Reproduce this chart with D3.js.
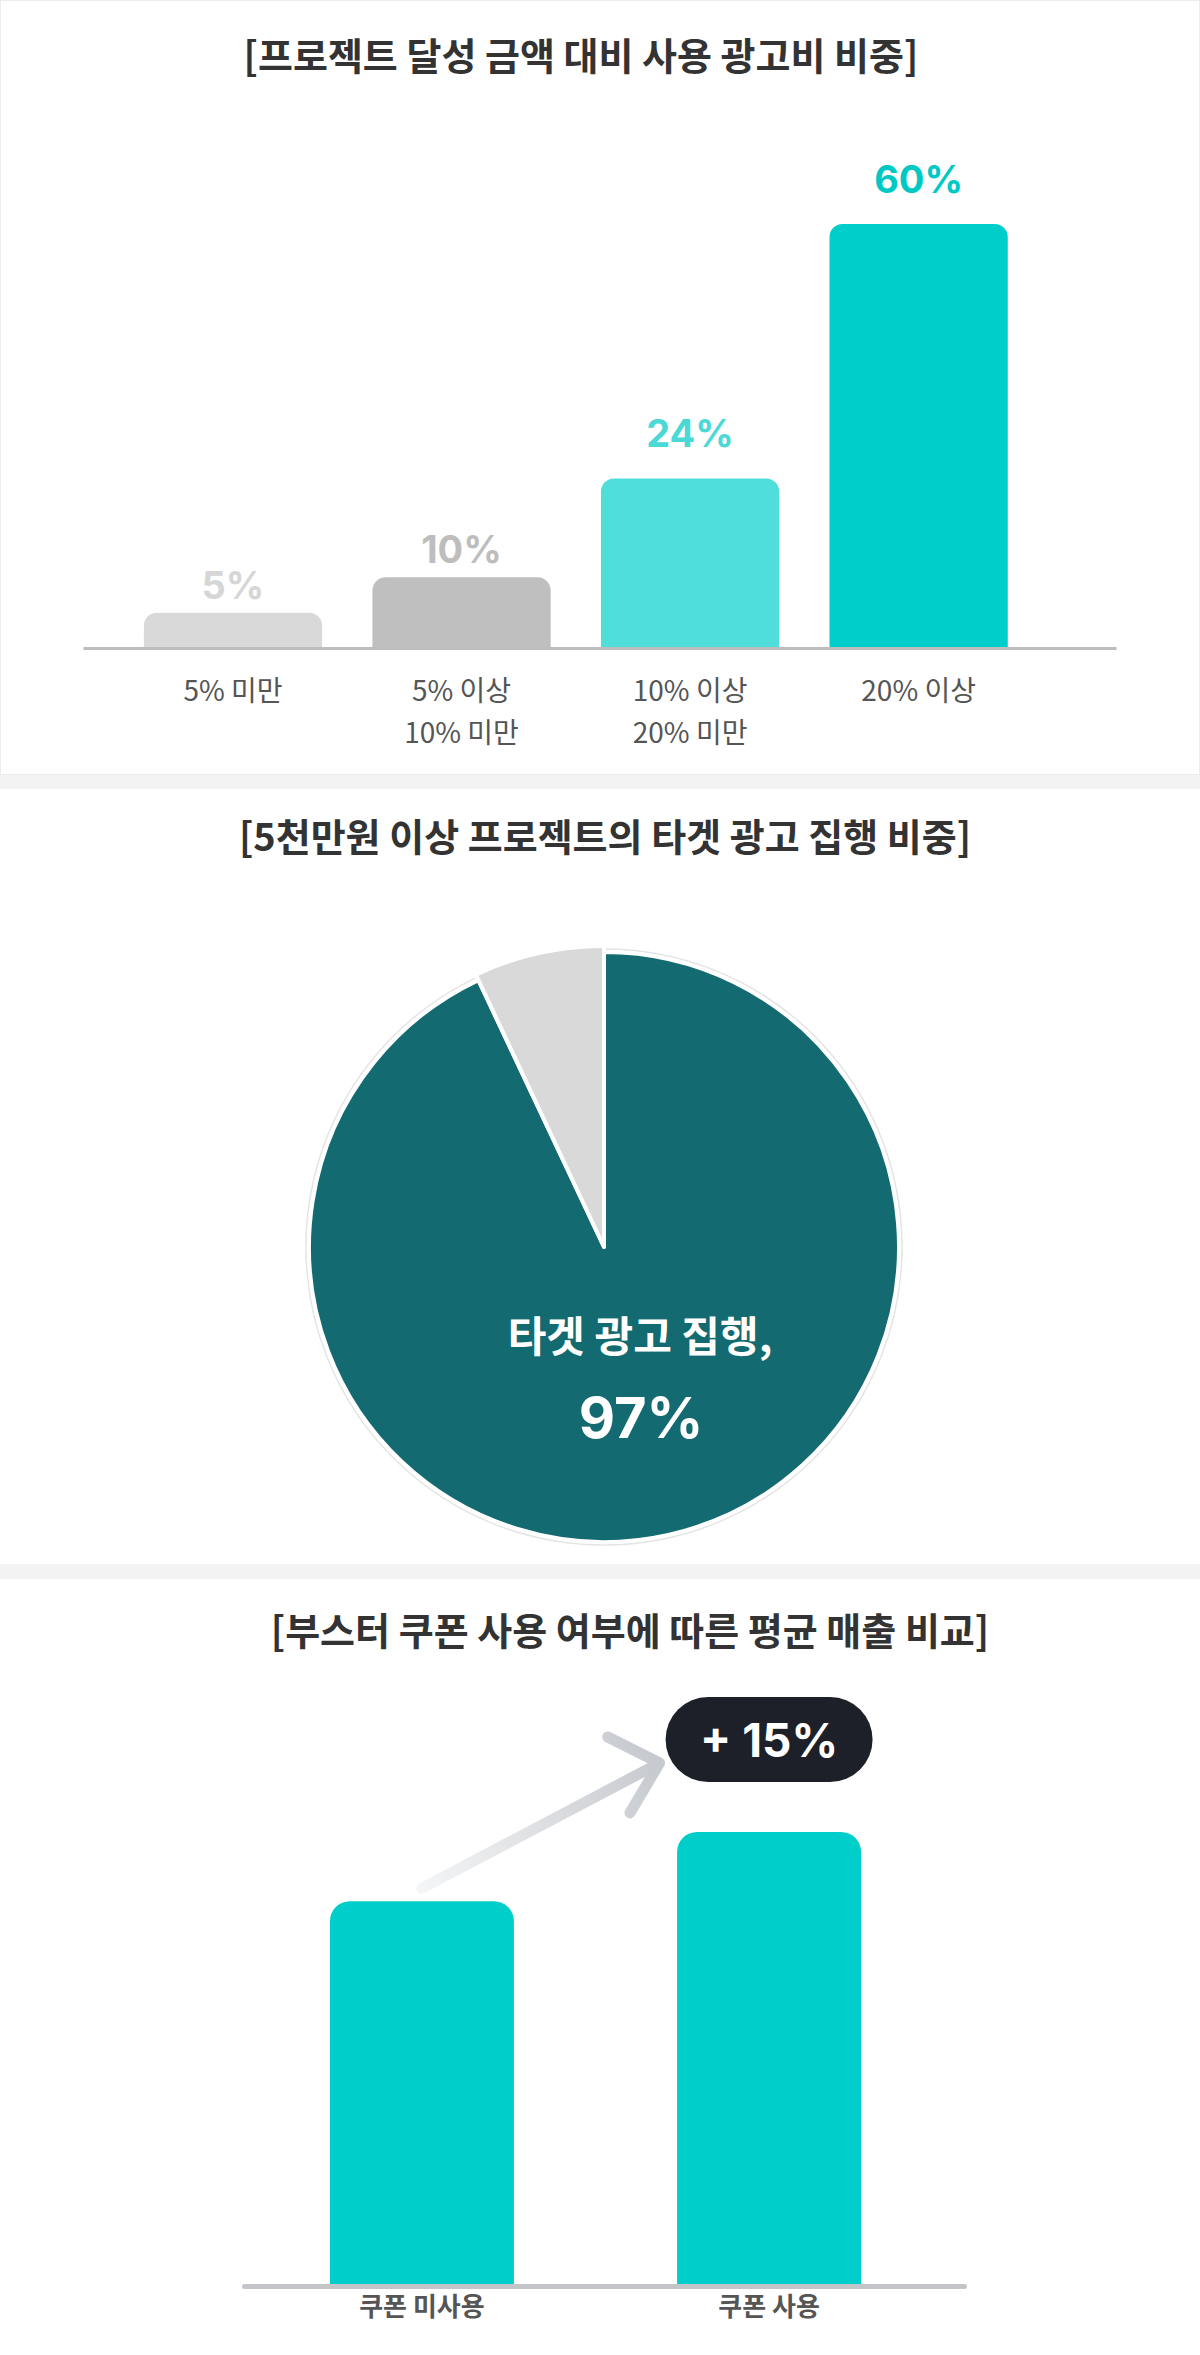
<!DOCTYPE html>
<html>
<head>
<meta charset="utf-8">
<script src="https://cdn.jsdelivr.net/npm/d3@7"></script>
<style>
  html, body { margin: 0; padding: 0; background: #fff; }
  svg { display: block; }
</style>
</head>
<body>
<script>
const WIDTH = 1200;
const HEIGHT = 2355;
const KR_FONT = '"Noto Sans CJK KR", "Noto Sans", sans-serif';
const NUM_FONT = 'Inter, "Noto Sans CJK KR", sans-serif';

// chart 1: ad spend as a share of the funded amount
const spendCategories = [['5% 미만'], ['5% 이상', '10% 미만'], ['10% 이상', '20% 미만'], ['20% 이상']];
const spendShares = [5, 10, 24, 60];

// chart 2: targeted ad spend in projects over 50M won
const targetLabels = ['타겟 광고 집행', '기타'];
const targetShares = [93, 7];  // slice as drawn in the picture
const targetCallout = ['타겟 광고 집행,', '97%'];

// chart 3: average sales with / without booster coupon
const couponCategories = ['쿠폰 미사용', '쿠폰 사용'];
const couponSales = [100, 118];
const couponLift = '+ 15%';

const titles = [
  '[프로젝트 달성 금액 대비 사용 광고비 비중]',
  '[5천만원 이상 프로젝트의 타겟 광고 집행 비중]',
  '[부스터 쿠폰 사용 여부에 따른 평균 매출 비교]'
];

const SPEND_BAR_COLORS = ['#d9d9d9', '#bfbfbf', '#50dedb', '#00cecb'];
const SPEND_LABEL_COLORS = ['#d6d6d6', '#bdbdbd', '#4ad9d6', '#00c8c5'];
const PIE_COLORS = ['#136a70', '#d9d9d9'];
const COUPON_COLOR = '#00cecb';

function topRoundedBar(x, y, w, h, r) {
  r = Math.min(r, h, w / 2);
  return 'M' + x + ',' + (y + h) +
    'V' + (y + r) +
    'A' + r + ',' + r + ' 0 0 1 ' + (x + r) + ',' + y +
    'H' + (x + w - r) +
    'A' + r + ',' + r + ' 0 0 1 ' + (x + w) + ',' + (y + r) +
    'V' + (y + h) + 'Z';
}

let svg = d3.select('body').append('svg')
    .attr('width', WIDTH)
    .attr('height', HEIGHT);

svg.append('rect').attr('width', WIDTH).attr('height', HEIGHT).attr('fill', '#fff');

// panel separators
[[775, 789], [1564, 1579]].forEach(function(s) {
  svg.append('rect')
      .attr('x', 0).attr('y', s[0])
      .attr('width', WIDTH).attr('height', s[1] - s[0])
      .attr('fill', '#f3f3f3');
});
svg.append('rect')
    .attr('x', 0.5).attr('y', 0.5)
    .attr('width', WIDTH - 1).attr('height', 774)
    .attr('fill', 'none')
    .attr('stroke', '#ececec');

// titles
[[581, 70], [605, 851], [630, 1645]].forEach(function(p, i) {
  svg.append('text')
      .attr('x', p[0]).attr('y', p[1])
      .attr('text-anchor', 'middle')
      .attr('font-family', KR_FONT)
      .attr('font-weight', 700)
      .attr('font-size', 38)
      .attr('fill', '#333')
      .text(titles[i]);
});

// ---------- chart 1 ----------
const BASE1 = 648;
let x1 = d3.scaleBand()
    .domain(d3.range(spendShares.length))
    .range([83, 1116])
    .paddingInner(0.22)
    .paddingOuter(0.37)
    .align(0.36);
let y1 = d3.scaleLinear()
    .domain([0, 60])
    .range([BASE1, 224]);

let g1 = svg.append('g');
g1.selectAll('path.bar')
    .data(spendShares)
    .join('path')
    .attr('class', 'bar')
    .attr('fill', function(d, i) { return SPEND_BAR_COLORS[i]; })
    .attr('d', function(d, i) {
      return topRoundedBar(x1(i), y1(d), x1.bandwidth(), BASE1 - y1(d), 13);
    });

g1.append('g')
    .attr('transform', 'translate(0,' + BASE1 + ')')
    .call(d3.axisBottom(x1).tickValues([]).tickSizeOuter(0))
    .call(function(a) {
      a.select('.domain').attr('stroke', '#bdbdbd').attr('stroke-width', 3);
    });

g1.selectAll('text.value')
    .data(spendShares)
    .join('text')
    .attr('class', 'value')
    .attr('x', function(d, i) { return x1(i) + x1.bandwidth() / 2; })
    .attr('y', function(d, i) { return y1(d) - (i >= 2 ? 31 : 14); })
    .attr('text-anchor', 'middle')
    .attr('font-family', NUM_FONT)
    .attr('font-weight', 700)
    .attr('font-size', 38)
    .attr('fill', function(d, i) { return SPEND_LABEL_COLORS[i]; })
    .text(function(d) { return d + '%'; });

let cat1 = g1.selectAll('text.cat')
    .data(spendCategories)
    .join('text')
    .attr('class', 'cat')
    .attr('text-anchor', 'middle')
    .attr('font-family', KR_FONT)
    .attr('font-size', 28)
    .attr('fill', '#555');
cat1.selectAll('tspan')
    .data(function(d, i) { return d.map(function(line) { return { line: line, i: i }; }); })
    .join('tspan')
    .attr('x', function(d) { return x1(d.i) + x1.bandwidth() / 2; })
    .attr('y', function(d, j) { return BASE1 + 53 + j * 42; })
    .text(function(d) { return d.line; });

// ---------- chart 2 ----------
const PIE_CX = 604, PIE_CY = 1247, PIE_R = 295;
let pie = d3.pie().sort(null).value(function(d) { return d; });
let arcs = pie(targetShares);
let g2 = svg.append('g').attr('transform', 'translate(' + PIE_CX + ',' + PIE_CY + ')');

g2.append('circle')
    .attr('r', PIE_R + 3)
    .attr('fill', 'none')
    .attr('stroke', '#e4e4e4')
    .attr('stroke-width', 1.5);

g2.selectAll('path')
    .data(arcs)
    .join('path')
    .attr('d', function(d, i) {
      return d3.arc().innerRadius(0).outerRadius(i === 0 ? PIE_R : PIE_R + 6)(d);
    })
    .attr('fill', function(d, i) { return PIE_COLORS[i]; })
    .attr('stroke', '#fff')
    .attr('stroke-width', 4)
    .attr('stroke-linejoin', 'round')
    .append('title')
    .text(function(d, i) { return targetLabels[i]; });

g2.append('text')
    .attr('x', 36).attr('y', 105)
    .attr('text-anchor', 'middle')
    .attr('font-family', KR_FONT)
    .attr('font-weight', 700)
    .attr('font-size', 42)
    .attr('fill', '#fff')
    .text(targetCallout[0]);
g2.append('text')
    .attr('x', 37).attr('y', 191)
    .attr('text-anchor', 'middle')
    .attr('font-family', NUM_FONT)
    .attr('font-weight', 700)
    .attr('font-size', 56)
    .attr('fill', '#fff')
    .text(targetCallout[1]);

// ---------- chart 3 ----------
const BASE3 = 2286;
let x3 = d3.scaleBand()
    .domain(couponCategories)
    .range([244, 964])
    .paddingInner(0.47)
    .paddingOuter(0.272)
    .align(0.455);
let y3 = d3.scaleLinear()
    .domain([0, d3.max(couponSales)])
    .range([BASE3, 1832]);

let g3 = svg.append('g');
g3.selectAll('path.bar')
    .data(couponSales)
    .join('path')
    .attr('class', 'bar')
    .attr('fill', COUPON_COLOR)
    .attr('d', function(d, i) {
      let c = couponCategories[i];
      return topRoundedBar(x3(c), y3(d), x3.bandwidth(), BASE3 - y3(d), 20);
    });

g3.append('g')
    .attr('transform', 'translate(0,' + BASE3 + ')')
    .call(d3.axisBottom(x3).tickSize(0).tickSizeOuter(0).tickPadding(12))
    .call(function(a) {
      a.select('.domain')
          .attr('stroke', '#c4c5c9')
          .attr('stroke-width', 5)
          .attr('stroke-linecap', 'round');
      a.selectAll('.tick text')
          .attr('font-family', KR_FONT)
          .attr('font-weight', 700)
          .attr('font-size', 26)
          .attr('fill', '#555');
    });

// "+15%" badge above the coupon bar, arrow from the first bar
let c0 = x3(couponCategories[0]) + x3.bandwidth() / 2;
let c1 = x3(couponCategories[1]) + x3.bandwidth() / 2;
const BADGE_W = 207, BADGE_H = 85;
let badgeBottom = y3(couponSales[1]) - 50;
let badgeLeft = c1 - BADGE_W / 2;

let tail = [c0, y3(couponSales[0]) - 13];
let tip = [badgeLeft - 6, badgeBottom - 19];
let ang = Math.atan2(tip[1] - tail[1], tip[0] - tail[0]);
let wing = 58;
let w1 = [tip[0] - wing * Math.cos(ang - 0.55), tip[1] - wing * Math.sin(ang - 0.55)];
let w2 = [tip[0] - wing * Math.cos(ang + 0.95), tip[1] - wing * Math.sin(ang + 0.95)];

let grad = svg.append('defs').append('linearGradient')
    .attr('id', 'arrowGrad')
    .attr('gradientUnits', 'userSpaceOnUse')
    .attr('x1', tail[0]).attr('y1', tail[1])
    .attr('x2', tip[0]).attr('y2', tip[1]);
grad.append('stop').attr('offset', '0%').attr('stop-color', '#f4f5f6');
grad.append('stop').attr('offset', '100%').attr('stop-color', '#c6c9ce');

g3.append('path')
    .attr('d', d3.line()([tail, tip]) + d3.line()([w1, tip, w2]))
    .attr('fill', 'none')
    .attr('stroke', 'url(#arrowGrad)')
    .attr('stroke-width', 11)
    .attr('stroke-linecap', 'round')
    .attr('stroke-linejoin', 'round');

g3.append('rect')
    .attr('x', badgeLeft).attr('y', badgeBottom - BADGE_H)
    .attr('width', BADGE_W).attr('height', BADGE_H)
    .attr('rx', BADGE_H / 2)
    .attr('fill', '#1e2029');
g3.append('text')
    .attr('x', c1).attr('y', badgeBottom - BADGE_H / 2 + 17)
    .attr('text-anchor', 'middle')
    .attr('font-family', NUM_FONT)
    .attr('font-weight', 700)
    .attr('font-size', 46)
    .attr('fill', '#fff')
    .text(couponLift);
</script>
</body>
</html>
